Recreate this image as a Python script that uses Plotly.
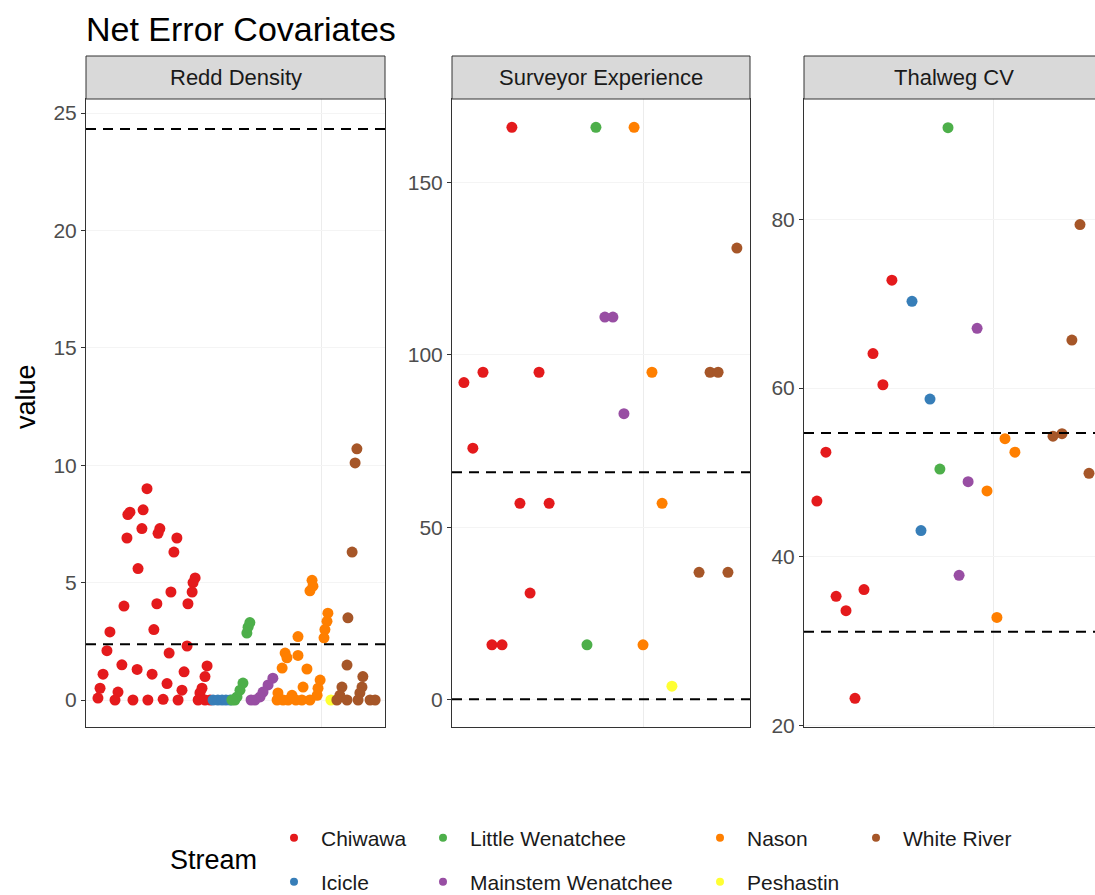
import plotly.graph_objects as go

# ---------------- data ----------------
streams = ["Chiwawa", "Icicle", "Little Wenatchee", "Mainstem Wenatchee",
           "Nason", "Peshastin", "White River"]
stream_colors = ["#E41A1C", "#377EB8", "#4DAF4A", "#984EA3",
                 "#FF7F00", "#FFFF33", "#A65628"]
facet_titles = ["Redd Density", "Surveyor Experience", "Thalweg CV"]

# Redd Density (position = jittered site index, value)
redd_chiwawa_pos = [20.4, 14.7, 14.0, 19.1, 13.7, 18.7, 24.7, 24.1, 30.4, 29.4, 17.4, 36.5, 35.8,
                    35.5, 34.1, 28.4, 23.7, 12.7, 22.7, 8.0, 7.0, 27.8, 33.8, 12.0, 17.1, 22.1,
                    5.7, 32.8, 27.1, 40.5, 39.8, 38.8, 38.1, 4.7, 4.0, 10.7, 9.7, 15.7, 20.7,
                    25.8, 32.1, 30.8, 37.5, 39.8, 41.5]
redd_chiwawa_val = [9.0, 8.0, 7.9, 8.1, 6.9, 7.3, 7.3, 7.1, 6.9, 6.3, 5.6, 5.2, 5.0,
                    4.6, 4.1, 4.6, 4.1, 4.0, 3.0, 2.9, 2.1, 2.0, 2.3, 1.5, 1.3, 1.1,
                    1.1, 1.2, 0.7, 1.45, 1.0, 0.5, 0.3, 0.5, 0.08, 0.34, 0.0, 0.0, 0.0,
                    0.03, 0.42, 0.0, 0.0, 0.0, 0.0]
redd_icicle_pos = [42.5, 44.1, 45.5, 46.8, 48.2]
redd_icicle_val = [0.0, 0.0, 0.0, 0.0, 0.0]
redd_littlewen_pos = [53.8, 54.2, 54.8, 52.5, 51.5, 50.5, 49.8, 48.8]
redd_littlewen_val = [2.85, 3.1, 3.3, 0.72, 0.42, 0.13, 0.0, 0.0]
redd_mainstem_pos = [62.5, 60.9, 59.2, 58.2, 56.5, 55.2]
redd_mainstem_val = [0.93, 0.64, 0.34, 0.13, 0.0, 0.0]
redd_nason_pos = [75.6, 75.9, 74.9, 80.9, 80.6, 79.9, 79.6, 70.9, 66.6, 70.9, 67.2, 65.6, 73.9,
                  64.2, 63.9, 68.9, 67.6, 72.2, 72.6, 78.3, 77.6, 77.3, 65.9, 70.2, 74.9]
redd_nason_val = [5.1, 4.85, 4.65, 3.7, 3.35, 3.0, 2.65, 2.7, 2.0, 1.9, 1.8, 1.36, 1.32,
                  0.3, 0.0, 0.2, 0.0, 0.0, 0.55, 0.85, 0.5, 0.2, 0.0, 0.0, 0.0]
redd_peshastin_pos = [81.9]
redd_peshastin_val = [0.0]
redd_white_pos = [90.6, 90.0, 89.0, 87.6, 87.3, 85.6, 84.9, 83.9, 87.3, 92.6, 92.3, 91.6, 91.0,
                  95.0, 96.7]
redd_white_val = [10.7, 10.1, 6.3, 3.5, 1.49, 0.55, 0.2, 0.0, 0.0, 1.0, 0.55, 0.3, 0.0,
                  0.0, 0.0]

# Surveyor Experience
surv_chiwawa_pos = [20.1, 10.4, 29.2, 4.0, 7.0, 22.8, 32.6, 26.2, 13.4, 16.8]
surv_chiwawa_val = [166, 95, 95, 92, 73, 57, 57, 31, 16, 16]
surv_icicle_pos = []
surv_icicle_val = []
surv_littlewen_pos = [48.3, 45.3]
surv_littlewen_val = [166, 16]
surv_mainstem_pos = [51.3, 54.0, 57.7]
surv_mainstem_val = [111, 111, 83]
surv_nason_pos = [61.1, 67.1, 70.5, 64.1]
surv_nason_val = [166, 95, 57, 16]
surv_peshastin_pos = [73.8]
surv_peshastin_val = [4]
surv_white_pos = [95.6, 86.6, 89.3, 82.9, 92.6]
surv_white_val = [131, 95, 95, 37, 37]

# Thalweg CV
thal_chiwawa_pos = [29.3, 23.0, 26.3, 7.3, 4.3, 20.0, 10.7, 14.0, 17.0]
thal_chiwawa_val = [72.8, 64.1, 60.4, 52.4, 46.6, 36.1, 35.3, 33.6, 23.2]
thal_icicle_pos = [36.0, 42.0, 39.0]
thal_icicle_val = [70.3, 58.7, 43.1]
thal_littlewen_pos = [48.0, 45.3]
thal_littlewen_val = [90.9, 50.4]
thal_mainstem_pos = [57.7, 54.7, 51.7]
thal_mainstem_val = [67.1, 48.9, 37.8]
thal_nason_pos = [67.0, 70.3, 61.0, 64.3]
thal_nason_val = [54.0, 52.4, 47.8, 32.8]
thal_peshastin_pos = []
thal_peshastin_val = []
thal_white_pos = [92.0, 89.3, 83.0, 86.0, 95.0]
thal_white_val = [79.4, 65.7, 54.3, 54.6, 49.9]

# reference (dashed) lines per facet
redd_lines = [24.32, 2.38]
surv_lines = [66.0, 0.2]
thal_lines = [54.67, 31.1]

# y tick labels per facet
redd_ticks = [0, 5, 10, 15, 20, 25]
surv_ticks = [0, 50, 100, 150]
thal_ticks = [20, 40, 60, 80]

# ---------------- layout helpers ----------------
W, H = 1095, 895
FONT = "Liberation Sans, Arial, sans-serif"

def px_x(p):
    return p / W

def px_y(p):
    return 1 - p / H

panel_top, panel_bot = 99, 727
strip_top = 56
panels_px = [(86, 385), (452, 750), (804, W)]
x_ranges = [[0, 100], [0, 100], [0, 97]]
y_ranges = [[-1.15, 25.6], [-7.83, 174.2], [19.8, 94.3]]
x_grid = [78.9, 64.1, 63.0]

facet_data = [
    [(redd_chiwawa_pos, redd_chiwawa_val), (redd_icicle_pos, redd_icicle_val),
     (redd_littlewen_pos, redd_littlewen_val), (redd_mainstem_pos, redd_mainstem_val),
     (redd_nason_pos, redd_nason_val), (redd_peshastin_pos, redd_peshastin_val),
     (redd_white_pos, redd_white_val)],
    [(surv_chiwawa_pos, surv_chiwawa_val), (surv_icicle_pos, surv_icicle_val),
     (surv_littlewen_pos, surv_littlewen_val), (surv_mainstem_pos, surv_mainstem_val),
     (surv_nason_pos, surv_nason_val), (surv_peshastin_pos, surv_peshastin_val),
     (surv_white_pos, surv_white_val)],
    [(thal_chiwawa_pos, thal_chiwawa_val), (thal_icicle_pos, thal_icicle_val),
     (thal_littlewen_pos, thal_littlewen_val), (thal_mainstem_pos, thal_mainstem_val),
     (thal_nason_pos, thal_nason_val), (thal_peshastin_pos, thal_peshastin_val),
     (thal_white_pos, thal_white_val)],
]
facet_lines = [redd_lines, surv_lines, thal_lines]
facet_ticks = [redd_ticks, surv_ticks, thal_ticks]

fig = go.Figure()
shapes = []
annotations = []

for i in range(3):
    sfx = "" if i == 0 else str(i + 1)
    for s_idx, (xs, ys) in enumerate(facet_data[i]):
        if not xs:
            continue
        fig.add_trace(go.Scatter(
            x=xs, y=ys, mode="markers", name=streams[s_idx],
            marker=dict(color=stream_colors[s_idx], size=11, line=dict(width=0)),
            xaxis="x" + sfx, yaxis="y" + sfx, showlegend=False, hoverinfo="skip"))
    left, right = panels_px[i]
    fig.update_layout(**{
        "xaxis" + sfx: dict(
            domain=[px_x(left), min(1.0, px_x(right))], range=x_ranges[i], anchor="y" + sfx,
            showticklabels=False, ticks="", tickvals=[x_grid[i]], showgrid=True,
            gridcolor="#ececec", gridwidth=1, zeroline=False, showline=True,
            mirror=True, linecolor="#333333", linewidth=1, fixedrange=True),
        "yaxis" + sfx: dict(
            domain=[px_y(panel_bot), px_y(panel_top)], range=y_ranges[i], anchor="x" + sfx,
            tickvals=facet_ticks[i], ticks="outside", ticklen=4, tickcolor="#333333",
            tickfont=dict(size=21, color="#4d4d4d", family=FONT),
            showgrid=True, gridcolor="#f4f4f4", zeroline=False, showline=True,
            mirror=(i < 2), linecolor="#333333", linewidth=1, fixedrange=True),
    })
    for v in facet_lines[i]:
        shapes.append(dict(type="line", xref="x" + sfx + " domain", yref="y" + sfx,
                           x0=0, x1=1, y0=v, y1=v,
                           line=dict(color="black", width=2, dash="10px,7px")))
    # strip
    x1 = px_x(right) if i < 2 else 1.02
    shapes.append(dict(type="rect", xref="paper", yref="paper",
                       x0=px_x(left), x1=x1, y0=px_y(panel_top), y1=px_y(strip_top),
                       fillcolor="#d9d9d9", line=dict(color="#333333", width=1), layer="above"))
    cx = (left + (left + 300 if i == 2 else right)) / 2
    annotations.append(dict(text=facet_titles[i], xref="paper", yref="paper",
                            x=px_x(cx), y=px_y((strip_top + panel_top) / 2),
                            xanchor="center", yanchor="middle",
                            showarrow=False, font=dict(size=22, color="#1a1a1a", family=FONT)))

# axis title
annotations.append(dict(text="value", xref="paper", yref="paper", x=px_x(26), y=px_y(397),
                        textangle=-90, showarrow=False, xanchor="center", yanchor="middle",
                        font=dict(size=27, color="black", family=FONT)))
# legend title
annotations.append(dict(text="Stream", xref="paper", yref="paper", x=px_x(168), y=px_y(860),
                        showarrow=False, xanchor="left", yanchor="middle",
                        font=dict(size=27, color="black", family=FONT)))

# legend: one legend per entry, ggplot-style 2 rows filled by column
legend_text_x = [321, 321, 470, 470, 747, 747, 903]
legend_row_y = [838, 882, 838, 882, 838, 882, 838]
ITEM_W = 44
legend_layout = {}
for k, s in enumerate(streams):
    lname = "legend" if k == 0 else "legend" + str(k + 1)
    fig.add_trace(go.Scatter(x=[None], y=[None], mode="markers", name=s,
                             marker=dict(color=stream_colors[k], size=8),
                             showlegend=True, legend=lname, hoverinfo="skip"))
    legend_layout[lname] = dict(
        x=px_x(legend_text_x[k] - (ITEM_W + 10)), y=px_y(legend_row_y[k]), xanchor="left",
        yanchor="middle", bgcolor="rgba(0,0,0,0)", borderwidth=0, itemwidth=ITEM_W,
        font=dict(size=21, color="#1a1a1a", family=FONT), itemclick=False,
        itemdoubleclick=False)

fig.update_layout(
    width=W, height=H, margin=dict(l=0, r=0, t=0, b=0, autoexpand=False),
    paper_bgcolor="white", plot_bgcolor="white",
    font=dict(family=FONT), hovermode=False,
    title=dict(text="Net Error Covariates", x=px_x(86), xanchor="left", xref="paper",
               y=px_y(29), yanchor="middle", yref="paper",
               font=dict(size=34, color="black", family=FONT)),
    shapes=shapes, annotations=annotations, **legend_layout)

PAGE_FIX = (
    "document.documentElement.style.margin='0';"
    "document.documentElement.style.overflow='hidden';"
    "document.body.style.margin='0';"
    "document.body.style.padding='0';"
    "document.body.style.overflow='hidden';"
)

fig.write_html("out.html", config={"displayModeBar": False}, post_script=PAGE_FIX)
